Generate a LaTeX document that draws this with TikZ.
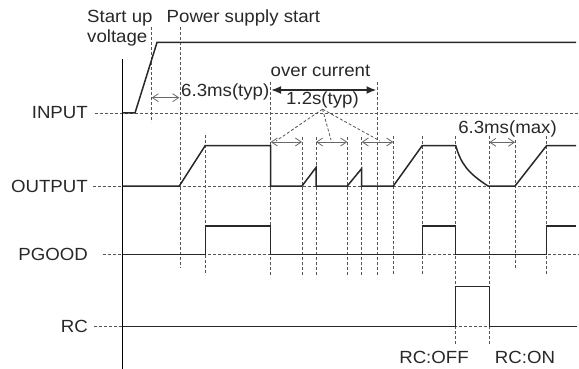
\documentclass[tikz,border=0pt]{standalone}
\usepackage{fontspec}
\setmainfont[FakeStretch=1.06]{Liberation Sans}
\usepackage{tikz}
\usetikzlibrary{arrows.meta,positioning}
\definecolor{tdInk} {RGB}{ 40, 40, 40}
\definecolor{tdGrid}{RGB}{ 85, 85, 85}
\definecolor{tdDim} {RGB}{105,105,105}

\begin{document}
\begin{tikzpicture}[
  x=1pt, y=-1pt,
  font=\fontsize{17.6}{20}\selectfont,
  sig/.style={draw=tdInk,line width=1.5pt},
  guide/.style={draw=tdGrid,line width=0.8pt,dash pattern=on 3pt off 2pt},
  dimline/.style={draw=tdDim,line width=0.8pt,
               {Straight Barb[length=6pt,width=8pt]}-{Straight Barb[length=6pt,width=8pt]}},
  ocline/.style={draw=tdInk,line width=1.8pt,
               {Latex[length=10pt,width=8pt]}-{Latex[length=10pt,width=8pt]}},
  txt/.style={text=tdInk,inner sep=0pt},
  siglbl/.style={txt,anchor=east},
]
\useasboundingbox (0,0) rectangle (579,369);

% signal names
\node[siglbl] (inp) at (88,113) {INPUT};
\node[siglbl] (out) at (88,186) {OUTPUT};
\node[siglbl] (pg)  at (88,254.3) {PGOOD};
\node[siglbl] (rc)  at (88,326.7) {RC};

% annotations
\node[txt,anchor=north west,align=left] (su) at (87,10) {Start up\\voltage};
\node[txt,anchor=base west] (pss)  at (166.5,22.7) {Power supply start};
\node[txt,anchor=base west] (t63)  at (181,96.5) {6.3ms(typ)};
\node[txt,anchor=base] (oc)   at (320.5,76.7) {over current};
\node[txt,anchor=base] (t12)  at (322.5,104.3) {1.2s(typ)};
\node[txt,anchor=base] (t63m) at (507.5,133) {6.3ms(max)};
\node[txt,anchor=base] (rcoff) at (434,363.3) {RC:OFF};
\node[txt,anchor=base] (rcon)  at (525,363.3) {RC:ON};

% horizontal guides
\draw[guide] ([xshift=7pt]inp.east) -- (579,113);
\draw[guide] ([xshift=5pt]out.east) -- (579,186);
\draw[guide] ([xshift=15pt]pg.east) -- (579,254.3);
\draw[guide] ([xshift=6pt]rc.east)  -- (579,326.7);

% vertical guides
\foreach \x/\ya/\yb in {151.7/27/122, 180/27/268, 205.3/135/275,
    270.7/82/275, 302/137/275, 316/137/275, 347.3/137/275,
    361.7/137/275, 377.5/82/275, 393.3/136/275, 422.3/136/275,
    455.7/136/345, 489.3/136/345, 515/140/268, 546.7/136/275}
  \draw[guide] (\x,\ya) -- (\x,\yb);

% time axis
\draw[black,line width=1.1pt] (122.5,59) -- (122.5,369);

% waveforms
\draw[sig] (122.5,113) -- (135,113) -- (157,42.5) -- (576,42.5);
\draw[sig] (122.5,186) -- (179.3,186) -- (205.3,145.5) -- (270.7,145.5)
  -- (270.7,186) -- (302,186) -- (316,167.5) -- (316,186) -- (347.3,186)
  -- (361.7,168.5) -- (361.7,186) -- (393.3,186) -- (422.3,145.5)
  -- (455.7,145.5) .. controls (461,164) and (468,173) .. (488,186)
  -- (515,186) -- (546.7,145.5) -- (576,145.5);
\draw[sig] (122.5,254.3) -- (205.3,254.3) -- (205.3,226) -- (270.7,226)
  -- (270.7,254.3) -- (422.3,254.3) -- (422.3,226) -- (455.7,226)
  -- (455.7,254.3) -- (546.7,254.3) -- (546.7,226) -- (576,226);
\draw[sig] (122.5,326.7) -- (455.7,326.7) -- (455.7,286.7) -- (489.3,286.7)
  -- (489.3,326.7) -- (577,326.7);

% timing arrows
\draw[dimline] (151.7,97.7) -- (179.3,97.7);
\draw[dimline] (270.7,142) -- (302,142);
\draw[dimline] (316,142) -- (347.3,142);
\draw[dimline] (361.7,142) -- (393.3,142);
\draw[dimline] (489.3,142.3) -- (515,142.3);
\draw[ocline] (271,90) -- (376.5,90);

% pointers for 1.2s
\coordinate (p1) at (276,141);
\coordinate (p2) at (331,140);
\coordinate (p3) at (380,141);
\foreach \p in {p1,p2,p3}
  \draw[guide] ([yshift=-1pt]t12.south) -- (\p);
\end{tikzpicture}
\end{document}
